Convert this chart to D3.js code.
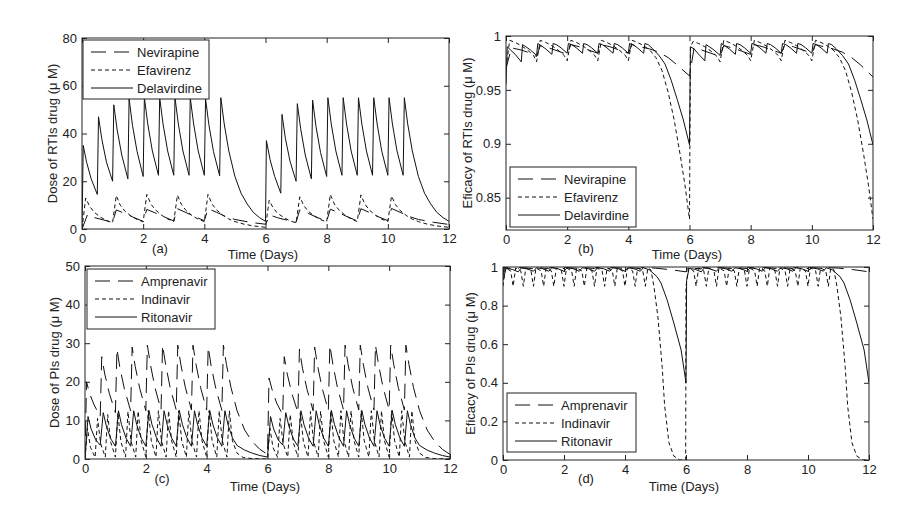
<!DOCTYPE html>
<html>
<head>
<meta charset="utf-8">
<script src="https://cdn.jsdelivr.net/npm/d3@7"></script>
<style>
  body { margin: 0; background: #fff; }
  text { font-family: "Liberation Sans", Arial, sans-serif; fill: #222; }
</style>
</head>
<body>
<svg id="chart" width="914" height="516"></svg>
<script>

// ---- Data: [time (days), value] ----

const xTicks = [0, 2, 4, 6, 8, 10, 12];
const yTicksA = [0, 20, 40, 60, 80];
const yTicksB = [0.85, 0.9, 0.95, 1];
const yTicksC = [0, 10, 20, 30, 40, 50];
const yTicksD = [0, 0.2, 0.4, 0.6, 0.8, 1];

// (a) dose of RTIs
const nevirapineDose = [
  [0,0],[0.18,6],[0.4,4.8],[0.7,3.8],[1,2.8],
  [1.12,8],[1.4,6.5],[1.7,4.8],[2,3.2],
  [2.12,8.2],[2.4,6.7],[2.7,5],[3,3.4],
  [3.12,8.5],[3.4,6.9],[3.7,5.1],[4,3.5],
  [4.12,8.5],[4.4,7],[4.7,5.2],[5,4],[5.5,2.8],[6,2],
  [6.15,5.8],[6.4,4.7],[6.7,3.7],[7,2.8],
  [7.12,8],[7.4,6.5],[7.7,4.8],[8,3.2],
  [8.12,8.3],[8.4,6.8],[8.7,5],[9,3.4],
  [9.12,8.5],[9.4,6.9],[9.7,5.1],[10,3.5],
  [10.12,8.6],[10.4,7],[10.7,5.2],[11,4],[11.5,2.8],[12,1.9]
];
const efavirenzDose = [
  [0,0],[0.12,13],[0.25,9.5],[0.4,7],[0.6,5],[0.8,3.5],[1,2.6],
  [1.12,14],[1.25,10],[1.4,7.5],[1.6,5.5],[1.8,4],[2,3],
  [2.12,14.5],[2.25,10.5],[2.4,8],[2.6,5.8],[2.8,4.2],[3,3.1],
  [3.12,14.2],[3.25,10.3],[3.4,7.8],[3.6,5.6],[3.8,4.1],[4,3.1],
  [4.12,14.5],[4.25,10.5],[4.4,8],[4.6,5.8],[4.8,4.2],[5,3.1],[5.3,2],[5.6,1.3],[6,0.7],
  [6.12,12],[6.25,8.8],[6.4,6.5],[6.6,4.8],[6.8,3.4],[7,2.6],
  [7.12,13.5],[7.25,9.8],[7.4,7.4],[7.6,5.4],[7.8,3.9],[8,3],
  [8.12,14.5],[8.25,10.5],[8.4,8],[8.6,5.8],[8.8,4.2],[9,3.1],
  [9.12,14.3],[9.25,10.4],[9.4,7.9],[9.6,5.7],[9.8,4.1],[10,3.1],
  [10.12,13.8],[10.25,10.2],[10.4,7.8],[10.6,5.7],[10.8,4.1],[11,3.1],[11.3,2],[11.6,1.3],[12,0.7]
];
const delavirdineDose = [
  [0,0],[0.04,35],[0.15,28],[0.3,21],[0.5,14.5],
  [0.54,47],[0.65,37.5],[0.8,28],[1,20],
  [1.04,52],[1.15,41.5],[1.3,31],[1.5,21],
  [1.54,54.5],[1.65,43.5],[1.8,32.5],[2,22],
  [2.04,55],[2.15,44],[2.3,32.7],[2.5,22.5],
  [2.54,55],[2.65,44],[2.8,32.7],[3,22.5],
  [3.04,55],[3.15,44],[3.3,32.7],[3.5,22.5],
  [3.54,55],[3.65,44],[3.8,32.7],[4,22.5],
  [4.04,54.5],[4.15,43.6],[4.3,32.4],[4.5,22.3],
  [4.54,55],[4.65,44],[4.8,32.7],[5,22],[5.2,15],[5.4,10.5],[5.6,7],[5.8,4.8],[6,3.2],
  [6.03,37],[6.15,29],[6.3,22],[6.5,15],
  [6.54,48],[6.65,38],[6.8,28.5],[7,20],
  [7.04,52.5],[7.15,42],[7.3,31],[7.5,21],
  [7.54,54],[7.65,43],[7.8,32],[8,22],
  [8.04,55],[8.15,44],[8.3,32.7],[8.5,22.5],
  [8.54,55],[8.65,44],[8.8,32.7],[9,22.5],
  [9.04,55],[9.15,44],[9.3,32.7],[9.5,22.5],
  [9.54,55],[9.65,44],[9.8,32.7],[10,22.5],
  [10.04,55],[10.15,44],[10.3,32.7],[10.5,22.5],
  [10.54,55],[10.65,44],[10.8,32.7],[11,22],[11.2,15],[11.4,10.5],[11.6,7],[11.8,4.8],[12,3.2]
];

// (b) efficacy of RTIs
const nevirapineEff = [
  [0,0.97],[0.18,0.989],[0.5,0.987],[0.8,0.984],[1,0.981],
  [1.12,0.991],[1.4,0.989],[1.7,0.986],[2,0.983],
  [2.12,0.992],[2.4,0.99],[2.7,0.987],[3,0.984],
  [3.12,0.992],[3.4,0.99],[3.7,0.987],[4,0.984],
  [4.12,0.992],[4.4,0.99],[4.7,0.988],[5,0.985],[5.3,0.98],[5.6,0.973],[6,0.963],
  [6.15,0.989],[6.4,0.987],[6.7,0.984],[7,0.981],
  [7.12,0.991],[7.4,0.989],[7.7,0.986],[8,0.983],
  [8.12,0.992],[8.4,0.99],[8.7,0.987],[9,0.984],
  [9.12,0.992],[9.4,0.99],[9.7,0.987],[10,0.984],
  [10.12,0.992],[10.4,0.99],[10.7,0.988],[11,0.985],[11.3,0.98],[11.6,0.973],[12,0.962]
];
const efavirenzEff = [
  [0,0.97],[0.12,0.996],[0.3,0.994],[0.5,0.991],[0.7,0.987],[0.9,0.982],[1,0.976],
  [1.12,0.996],[1.3,0.994],[1.5,0.991],[1.7,0.987],[1.9,0.982],[2,0.977],
  [2.12,0.996],[2.3,0.994],[2.5,0.991],[2.7,0.987],[2.9,0.982],[3,0.977],
  [3.12,0.996],[3.3,0.994],[3.5,0.991],[3.7,0.987],[3.9,0.982],[4,0.977],
  [4.12,0.996],[4.3,0.994],[4.5,0.991],[4.7,0.987],[4.9,0.98],[5.1,0.968],[5.3,0.948],[5.5,0.922],[5.7,0.889],[5.85,0.862],[6,0.83],
  [6.03,0.99],[6.12,0.995],[6.3,0.993],[6.5,0.99],[6.7,0.986],[6.9,0.981],[7,0.976],
  [7.12,0.996],[7.3,0.994],[7.5,0.991],[7.7,0.987],[7.9,0.982],[8,0.977],
  [8.12,0.996],[8.3,0.994],[8.5,0.991],[8.7,0.987],[8.9,0.982],[9,0.977],
  [9.12,0.996],[9.3,0.994],[9.5,0.991],[9.7,0.987],[9.9,0.982],[10,0.977],
  [10.12,0.996],[10.3,0.994],[10.5,0.991],[10.7,0.987],[10.9,0.98],[11.1,0.968],[11.3,0.948],[11.5,0.922],[11.7,0.889],[11.85,0.862],[12,0.83]
];
const delavirdineEff = [
  [0,0.955],[0.04,0.99],[0.15,0.987],[0.3,0.983],[0.5,0.976],
  [0.54,0.992],[0.65,0.99],[0.8,0.987],[1,0.982],
  [1.04,0.993],[1.15,0.991],[1.3,0.988],[1.5,0.983],
  [1.54,0.993],[1.65,0.992],[1.8,0.989],[2,0.984],
  [2.04,0.993],[2.15,0.992],[2.3,0.989],[2.5,0.984],
  [2.54,0.993],[2.65,0.992],[2.8,0.989],[3,0.984],
  [3.04,0.993],[3.15,0.992],[3.3,0.989],[3.5,0.984],
  [3.54,0.993],[3.65,0.992],[3.8,0.989],[4,0.984],
  [4.04,0.993],[4.15,0.992],[4.3,0.989],[4.5,0.984],
  [4.54,0.993],[4.65,0.992],[4.8,0.988],[5,0.982],[5.2,0.974],[5.4,0.959],[5.6,0.941],[5.8,0.922],[6,0.899],
  [6.03,0.99],[6.15,0.988],[6.3,0.983],[6.5,0.977],
  [6.54,0.992],[6.65,0.99],[6.8,0.987],[7,0.982],
  [7.04,0.993],[7.15,0.991],[7.3,0.988],[7.5,0.983],
  [7.54,0.993],[7.65,0.992],[7.8,0.989],[8,0.984],
  [8.04,0.993],[8.15,0.992],[8.3,0.989],[8.5,0.984],
  [8.54,0.993],[8.65,0.992],[8.8,0.989],[9,0.984],
  [9.04,0.993],[9.15,0.992],[9.3,0.989],[9.5,0.984],
  [9.54,0.993],[9.65,0.992],[9.8,0.989],[10,0.984],
  [10.04,0.993],[10.15,0.992],[10.3,0.989],[10.5,0.984],
  [10.54,0.993],[10.65,0.992],[10.8,0.988],[11,0.982],[11.2,0.974],[11.4,0.959],[11.6,0.941],[11.8,0.922],[12,0.899]
];

// (c) dose of PIs
const amprenavirDose = [
  [0,0],[0.05,20],[0.15,17],[0.3,14],[0.5,11],
  [0.55,26.5],[0.65,22],[0.8,17],[1,12],
  [1.05,28.5],[1.15,23.5],[1.3,18],[1.5,12.5],
  [1.55,29],[1.65,24],[1.8,18.3],[2,12.5],
  [2.05,29.5],[2.15,24.5],[2.3,18.5],[2.5,12.7],
  [2.55,29.5],[2.65,24.5],[2.8,18.5],[3,12.7],
  [3.05,29.5],[3.15,24.5],[3.3,18.5],[3.5,12.7],
  [3.55,29.5],[3.65,24.5],[3.8,18.5],[4,12.7],
  [4.05,29],[4.15,24],[4.3,18.3],[4.5,12.6],
  [4.55,29.5],[4.65,24.5],[4.8,18.5],[5,12.5],[5.25,7.5],[5.5,4.5],[5.75,2.5],[6,1.2],
  [6.05,21],[6.15,18],[6.3,14.5],[6.5,11.5],
  [6.55,26.5],[6.65,22],[6.8,17],[7,12],
  [7.05,28.5],[7.15,23.5],[7.3,18],[7.5,12.5],
  [7.55,29],[7.65,24],[7.8,18.3],[8,12.5],
  [8.05,29.5],[8.15,24.5],[8.3,18.5],[8.5,12.7],
  [8.55,29.5],[8.65,24.5],[8.8,18.5],[9,12.7],
  [9.05,29.5],[9.15,24.5],[9.3,18.5],[9.5,12.7],
  [9.55,29.5],[9.65,24.5],[9.8,18.5],[10,12.7],
  [10.05,29.5],[10.15,24.5],[10.3,18.5],[10.5,12.7],
  [10.55,29.5],[10.65,24.5],[10.8,18.5],[11,12.5],[11.25,7.5],[11.5,4.5],[11.75,2.5],[12,1.2]
];
const indinavirDose = [
  [0,0],[0.08,8],[0.18,3],
  [0.333,0.4],[0.413,10.5],[0.513,4],
  [0.667,0.5],[0.747,11.5],[0.847,4.3],
  [1,0.5],[1.08,12],[1.18,4.5],
  [1.333,0.5],[1.413,12.3],[1.513,4.6],
  [1.667,0.5],[1.747,12.4],[1.847,4.7],
  [2,0.5],[2.08,12.5],[2.18,4.7],
  [2.333,0.5],[2.413,12.5],[2.513,4.7],
  [2.667,0.5],[2.747,12.5],[2.847,4.7],
  [3,0.5],[3.08,12.5],[3.18,4.7],
  [3.333,0.5],[3.413,12.5],[3.513,4.7],
  [3.667,0.5],[3.747,12.5],[3.847,4.7],
  [4,0.5],[4.08,12.5],[4.18,4.7],
  [4.333,0.5],[4.413,12.5],[4.513,4.7],
  [4.667,0.5],[4.747,12.5],[4.847,4.7],[5,1.5],[5.2,0.4],[5.5,0.1],[6,0],
  [6.08,8],[6.18,3],
  [6.333,0.4],[6.413,10.5],[6.513,4],
  [6.667,0.5],[6.747,11.5],[6.847,4.3],
  [7,0.5],[7.08,12],[7.18,4.5],
  [7.333,0.5],[7.413,12.3],[7.513,4.6],
  [7.667,0.5],[7.747,12.4],[7.847,4.7],
  [8,0.5],[8.08,12.5],[8.18,4.7],
  [8.333,0.5],[8.413,12.5],[8.513,4.7],
  [8.667,0.5],[8.747,12.5],[8.847,4.7],
  [9,0.5],[9.08,12.5],[9.18,4.7],
  [9.333,0.5],[9.413,12.5],[9.513,4.7],
  [9.667,0.5],[9.747,12.5],[9.847,4.7],
  [10,0.5],[10.08,12.5],[10.18,4.7],
  [10.333,0.5],[10.413,12.5],[10.513,4.7],
  [10.667,0.5],[10.747,12.5],[10.847,4.7],[11,1.5],[11.2,0.4],[11.5,0.1],[12,0]
];
const ritonavirDose = [
  [0,0],[0.1,11],[0.2,7.8],[0.35,5],[0.5,3.6],
  [0.6,12],[0.7,8.6],[0.85,5.2],[1,3.3],
  [1.1,12.5],[1.2,8.9],[1.35,5.4],[1.5,3.3],
  [1.6,12.5],[1.7,8.9],[1.85,5.4],[2,3.3],
  [2.1,12.6],[2.2,9],[2.35,5.5],[2.5,3.3],
  [2.6,12.5],[2.7,8.9],[2.85,5.4],[3,3.3],
  [3.1,12.6],[3.2,9],[3.35,5.5],[3.5,3.3],
  [3.6,12.5],[3.7,8.9],[3.85,5.4],[4,3.3],
  [4.1,12.6],[4.2,9],[4.35,5.5],[4.5,3.3],
  [4.6,12.5],[4.7,8.9],[4.85,5.4],[5,3.5],[5.25,2.3],[5.5,1.5],[5.75,0.9],[6,0.5],
  [6.1,11],[6.2,7.8],[6.35,5],[6.5,3.6],
  [6.6,12],[6.7,8.6],[6.85,5.2],[7,3.3],
  [7.1,12.5],[7.2,8.9],[7.35,5.4],[7.5,3.3],
  [7.6,12.5],[7.7,8.9],[7.85,5.4],[8,3.3],
  [8.1,12.6],[8.2,9],[8.35,5.5],[8.5,3.3],
  [8.6,12.5],[8.7,8.9],[8.85,5.4],[9,3.3],
  [9.1,12.6],[9.2,9],[9.35,5.5],[9.5,3.3],
  [9.6,12.5],[9.7,8.9],[9.85,5.4],[10,3.3],
  [10.1,12.6],[10.2,9],[10.35,5.5],[10.5,3.3],
  [10.6,12.5],[10.7,8.9],[10.85,5.4],[11,3.5],[11.25,2.3],[11.5,1.5],[11.75,0.9],[12,0.5]
];

// (d) efficacy of PIs
const amprenavirEff = [
  [0,0.95],[0.05,0.996],[0.5,0.99],[0.55,0.998],[1,0.991],[1.05,0.998],
  [1.5,0.992],[1.55,0.998],[2,0.992],[2.05,0.998],[2.5,0.992],[2.55,0.998],
  [3,0.992],[3.05,0.998],[3.5,0.992],[3.55,0.998],[4,0.992],[4.05,0.998],
  [4.5,0.992],[4.55,0.998],[5,0.994],[5.5,0.986],[6,0.975],
  [6.05,0.996],[6.5,0.99],[6.55,0.998],[7,0.991],[7.05,0.998],
  [7.5,0.992],[7.55,0.998],[8,0.992],[8.05,0.998],[8.5,0.992],[8.55,0.998],
  [9,0.992],[9.05,0.998],[9.5,0.992],[9.55,0.998],[10,0.992],[10.05,0.998],
  [10.5,0.992],[10.55,0.998],[11,0.994],[11.5,0.986],[12,0.975]
];
const indinavirEff = [
  [0,0.9],[0.08,0.995],[0.25,0.98],
  [0.333,0.9],[0.413,0.995],[0.583,0.98],
  [0.667,0.9],[0.747,0.995],[0.917,0.98],
  [1,0.9],[1.08,0.995],[1.25,0.98],
  [1.333,0.9],[1.413,0.995],[1.583,0.98],
  [1.667,0.9],[1.747,0.995],[1.917,0.98],
  [2,0.9],[2.08,0.995],[2.25,0.98],
  [2.333,0.9],[2.413,0.995],[2.583,0.98],
  [2.667,0.9],[2.747,0.995],[2.917,0.98],
  [3,0.9],[3.08,0.995],[3.25,0.98],
  [3.333,0.9],[3.413,0.995],[3.583,0.98],
  [3.667,0.9],[3.747,0.995],[3.917,0.98],
  [4,0.9],[4.08,0.995],[4.25,0.98],
  [4.333,0.9],[4.413,0.995],[4.583,0.98],
  [4.667,0.9],[4.747,0.995],[4.85,0.985],[4.95,0.898],[5.08,0.74],[5.22,0.48],[5.3,0.28],[5.44,0.09],[5.6,0.02],[5.8,0],[5.99,0],
  [6,0.9],[6.08,0.995],[6.25,0.98],
  [6.333,0.9],[6.413,0.995],[6.583,0.98],
  [6.667,0.9],[6.747,0.995],[6.917,0.98],
  [7,0.9],[7.08,0.995],[7.25,0.98],
  [7.333,0.9],[7.413,0.995],[7.583,0.98],
  [7.667,0.9],[7.747,0.995],[7.917,0.98],
  [8,0.9],[8.08,0.995],[8.25,0.98],
  [8.333,0.9],[8.413,0.995],[8.583,0.98],
  [8.667,0.9],[8.747,0.995],[8.917,0.98],
  [9,0.9],[9.08,0.995],[9.25,0.98],
  [9.333,0.9],[9.413,0.995],[9.583,0.98],
  [9.667,0.9],[9.747,0.995],[9.917,0.98],
  [10,0.9],[10.08,0.995],[10.25,0.98],
  [10.333,0.9],[10.413,0.995],[10.583,0.98],
  [10.667,0.9],[10.747,0.995],[10.85,0.985],[10.95,0.898],[11.08,0.74],[11.22,0.48],[11.3,0.28],[11.44,0.09],[11.6,0.02],[11.8,0],[12,0]
];
const ritonavirEff = [
  [0,0.93],[0.1,0.993],[0.3,0.988],[0.5,0.975],
  [0.6,0.995],[0.8,0.99],[1,0.978],
  [1.1,0.996],[1.3,0.991],[1.5,0.978],
  [1.6,0.996],[1.8,0.991],[2,0.978],
  [2.1,0.996],[2.3,0.991],[2.5,0.978],
  [2.6,0.996],[2.8,0.991],[3,0.978],
  [3.1,0.996],[3.3,0.991],[3.5,0.978],
  [3.6,0.996],[3.8,0.991],[4,0.978],
  [4.1,0.996],[4.3,0.991],[4.5,0.978],
  [4.6,0.996],[4.8,0.985],[5.05,0.95],[5.18,0.917],[5.38,0.83],[5.6,0.71],[5.84,0.57],[6,0.4],
  [6.02,0.93],[6.1,0.993],[6.3,0.988],[6.5,0.975],
  [6.6,0.995],[6.8,0.99],[7,0.978],
  [7.1,0.996],[7.3,0.991],[7.5,0.978],
  [7.6,0.996],[7.8,0.991],[8,0.978],
  [8.1,0.996],[8.3,0.991],[8.5,0.978],
  [8.6,0.996],[8.8,0.991],[9,0.978],
  [9.1,0.996],[9.3,0.991],[9.5,0.978],
  [9.6,0.996],[9.8,0.991],[10,0.978],
  [10.1,0.996],[10.3,0.991],[10.5,0.978],
  [10.6,0.996],[10.8,0.985],[11.05,0.95],[11.18,0.917],[11.38,0.83],[11.6,0.71],[11.84,0.57],[12,0.4]
];

// ---- Drawing ----

const dashes = { long: "15,8", dot: "4,3", solid: null };
const ink = "#222";
const font = "'Liberation Sans', Arial, sans-serif";

const svg = d3.select("#chart");

const panels = [
  {
    id: "a", left: 82, right: 449, top: 38, bottom: 229,
    yDomain: [0, 80], yTicks: yTicksA, yLabelX: 57,
    yLabel: "Dose of RTIs drug (μ M)",
    caption: "(a)", captionX: 160, captionY: 253, xLabelX: 263, xLabelY: 259,
    legend: { x: 83, y: 40, w: 126, h: 59 },
    series: [
      { name: "Nevirapine", style: "long", data: nevirapineDose },
      { name: "Efavirenz", style: "dot", data: efavirenzDose },
      { name: "Delavirdine", style: "solid", data: delavirdineDose }
    ]
  },
  {
    id: "b", left: 506, right: 873, top: 36, bottom: 230,
    yDomain: [0.82, 1], yTicks: yTicksB, yLabelX: 472,
    yLabel: "Eficacy of RTIs drug (μ M)",
    caption: "(b)", captionX: 586, captionY: 253, xLabelX: 687, xLabelY: 259,
    legend: { x: 510, y: 167, w: 126, h: 60 },
    series: [
      { name: "Nevirapine", style: "long", data: nevirapineEff },
      { name: "Efavirenz", style: "dot", data: efavirenzEff },
      { name: "Delavirdine", style: "solid", data: delavirdineEff }
    ]
  },
  {
    id: "c", left: 85, right: 450, top: 266, bottom: 459,
    yDomain: [0, 50], yTicks: yTicksC, yLabelX: 59,
    yLabel: "Dose of PIs drug (μ M)",
    caption: "(c)", captionX: 162, captionY: 483, xLabelX: 265, xLabelY: 491,
    legend: { x: 87, y: 269, w: 128, h: 60 },
    series: [
      { name: "Amprenavir", style: "long", data: amprenavirDose },
      { name: "Indinavir", style: "dot", data: indinavirDose },
      { name: "Ritonavir", style: "solid", data: ritonavirDose }
    ]
  },
  {
    id: "d", left: 503, right: 869, top: 267, bottom: 460,
    yDomain: [0, 1], yTicks: yTicksD, yLabelX: 475,
    yLabel: "Eficacy of PIs drug (μ M)",
    caption: "(d)", captionX: 586, captionY: 483, xLabelX: 684, xLabelY: 491,
    legend: { x: 507, y: 393, w: 129, h: 59 },
    series: [
      { name: "Amprenavir", style: "long", data: amprenavirEff },
      { name: "Indinavir", style: "dot", data: indinavirEff },
      { name: "Ritonavir", style: "solid", data: ritonavirEff }
    ]
  }
];

function styleAxis(g) {
  g.attr("font-family", font).attr("font-size", 13);
  g.select(".domain").remove();
  g.selectAll("line").attr("stroke", ink);
  g.selectAll("text").attr("fill", ink);
}

function drawPanel(p) {
  const w = p.right - p.left;
  const h = p.bottom - p.top;

  const x = d3.scaleLinear().domain([0, 12]).range([p.left, p.right]);
  const y = d3.scaleLinear().domain(p.yDomain).range([p.bottom, p.top]);

  svg.append("clipPath")
    .attr("id", "clip-" + p.id)
    .append("rect")
    .attr("x", p.left).attr("y", p.top)
    .attr("width", w).attr("height", h);

  // curves
  const line = d3.line()
    .x(d => x(d[0]))
    .y(d => y(d[1]));

  const plot = svg.append("g").attr("clip-path", `url(#clip-${p.id})`);

  p.series.forEach(s => {
    plot.append("path")
      .datum(s.data)
      .attr("fill", "none")
      .attr("stroke", "#111")
      .attr("stroke-width", 1)
      .attr("stroke-dasharray", dashes[s.style])
      .attr("d", line);
  });

  // axes: ticks point inward on all four sides
  svg.append("g")
    .attr("transform", `translate(0,${p.bottom})`)
    .call(d3.axisBottom(x).tickValues(xTicks).tickSizeInner(-5).tickSizeOuter(0).tickPadding(5))
    .call(styleAxis);

  svg.append("g")
    .attr("transform", `translate(0,${p.top})`)
    .call(d3.axisTop(x).tickValues(xTicks).tickSizeInner(-5).tickSizeOuter(0).tickFormat(""))
    .call(styleAxis);

  svg.append("g")
    .attr("transform", `translate(${p.left},0)`)
    .call(d3.axisLeft(y).tickValues(p.yTicks).tickSizeInner(-5).tickSizeOuter(0).tickPadding(5)
      .tickFormat(d => String(d)))
    .call(styleAxis);

  svg.append("g")
    .attr("transform", `translate(${p.right},0)`)
    .call(d3.axisRight(y).tickValues(p.yTicks).tickSizeInner(-5).tickSizeOuter(0).tickFormat(""))
    .call(styleAxis);

  // box
  svg.append("rect")
    .attr("x", p.left).attr("y", p.top)
    .attr("width", w).attr("height", h)
    .attr("fill", "none")
    .attr("stroke", ink)
    .attr("stroke-width", 1);

  // y label
  svg.append("text")
    .attr("transform", `translate(${p.yLabelX},${(p.top + p.bottom) / 2}) rotate(-90)`)
    .attr("text-anchor", "middle")
    .style("font-size", "13px")
    .text(p.yLabel);

  // x label and panel caption
  svg.append("text")
    .attr("x", p.xLabelX).attr("y", p.xLabelY)
    .attr("text-anchor", "middle")
    .style("font-size", "13px")
    .text("Time (Days)");

  svg.append("text")
    .attr("x", p.captionX).attr("y", p.captionY)
    .attr("text-anchor", "middle")
    .style("font-size", "13px")
    .text(p.caption);

  // legend
  const lg = svg.append("g");
  lg.append("rect")
    .attr("x", p.legend.x).attr("y", p.legend.y)
    .attr("width", p.legend.w).attr("height", p.legend.h)
    .attr("fill", "#fff")
    .attr("stroke", ink);

  p.series.forEach((s, i) => {
    const cy = p.legend.y + 12 + i * 18;
    lg.append("line")
      .attr("x1", p.legend.x + 8).attr("x2", p.legend.x + 50)
      .attr("y1", cy).attr("y2", cy)
      .attr("stroke", "#111")
      .attr("stroke-dasharray", dashes[s.style]);
    lg.append("text")
      .attr("x", p.legend.x + 54).attr("y", cy)
      .attr("dy", "0.35em")
      .style("font-size", "13px")
      .text(s.name);
  });
}

panels.forEach(drawPanel);

</script>
</body>
</html>
